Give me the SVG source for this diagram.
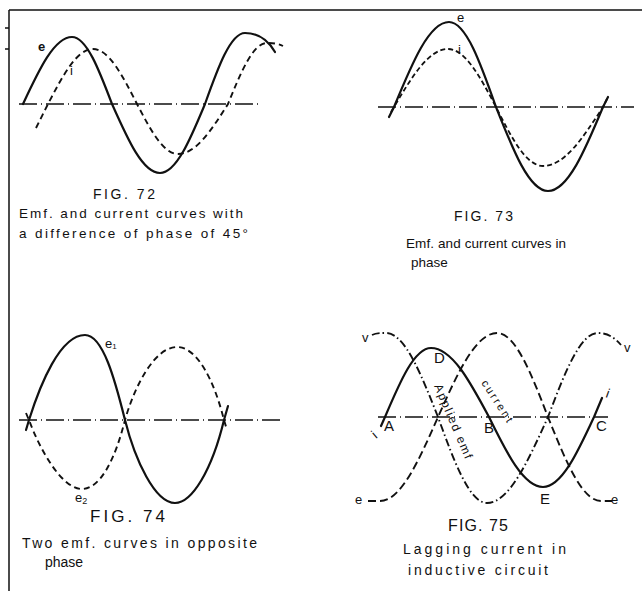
<svg xmlns="http://www.w3.org/2000/svg" width="642" height="591" viewBox="0 0 642 591">
<style>
.bg{fill:#fff}
.frame{fill:none;stroke:#111;stroke-width:1.5}
.axis{fill:none;stroke:#111;stroke-width:1.5;stroke-dasharray:18 4 1 4;stroke-linecap:butt}
.solid{fill:none;stroke:#111;stroke-width:2.2;stroke-linecap:round;stroke-linejoin:round}
.dash{fill:none;stroke:#111;stroke-width:1.9;stroke-dasharray:6 4}
.dashs{fill:none;stroke:#111;stroke-width:1.8;stroke-dasharray:5 3}
.dashl{fill:none;stroke:#111;stroke-width:1.9;stroke-dasharray:8 4}
.dashdot{fill:none;stroke:#111;stroke-width:1.9;stroke-dasharray:8 3 1.5 3}
text{font-family:"Liberation Sans","DejaVu Sans",sans-serif;fill:#111}
.cap{font-size:13.5px}
.fig{font-size:14px}
.lbl{font-size:13px}
</style>
<rect class="bg" x="0" y="0" width="642" height="591"/>
<g id="frame">
<path class="frame" d="M9,10 H642 M9,10 V591 M5,28 H9 M5,49 H9"/>
</g>
<g id="connectors">
<!-- Fig 72 -->
<path class="axis" d="M19,104 H262"/>
<path class="solid" d="M23,104 C39,69.7 54.3,37 72,37 C86.5,37 99,69.7 112,104 C127.7,139.3 142.6,173 160,173 C176.3,173 190.3,139.3 205,104 C218,67.6 230.5,33 245,33 C258,33 268,40 275,52"/>
<path class="dash" d="M36,128 L48,104 C62.7,75.8 76.7,49 93,49 C108.9,49 122.7,75.8 137,104 C150.4,129.6 163.2,154 178,154 C196.1,154 211.7,129.6 228,104 C240.7,72.7 252.9,43 267,43 C274,43 279,44 283,46"/>
<!-- Fig 73 -->
<path class="axis" d="M378,107 H634"/>
<path class="solid" d="M389,117 L394,107 C411.9,63.5 429.1,22 449,22 C466,22 480.7,63.5 496,107 C513,150 529.2,191 548,191 C567.9,191 585.1,150 603,107 L608,97"/>
<path class="dashs" d="M391,112 L394,107 C411.6,77.3 428.5,49 448,49 C465.4,49 480.3,77.3 496,107 C511.3,137.2 526,166 543,166 C564.7,166 583.4,137.2 603,107 L607,99"/>
<!-- Fig 74 -->
<path class="axis" d="M19,420 H280"/>
<path class="solid" d="M26,430 L29,420 C40,385 60,335 85,335 C103,335 115,380 125,420 C135,460 155,503 175,503 C192,503 212,470 224,420 L228,406"/>
<path class="dash" d="M26,413 L29,420 C40,450 62,489 82,489 C100,489 115,460 125,420 C135,385 155,347 177,347 C197,347 214,380 224,420 L227,430"/>
<!-- Fig 75 -->
<path class="axis" d="M378,417 H608"/>
<path class="solid" d="M381,426 L385,417 C400,381.7 414.4,348 431,348 C452,348 470.1,381.7 489,417 C506.6,452.9 523.5,487 543,487 C561.5,487 577.4,452.9 594,417 L602,398"/>
<path class="dashl" d="M368,501 L380,501 C401,501 419.1,460 438,417 C457.2,374 475.6,333 497,333 C515.5,333 531.4,374 548,417 C565.3,460 581.8,501 601,501 L612,501"/>
<path class="dashdot" d="M372,335 C376,333 380,333 386,333 C404.8,333 421,374 438,417 C454,461 469.3,503 487,503 C509.1,503 528.1,461 548,417 C564.3,374 579.9,333 598,333 C608,333 615,338 621,345"/>
</g>
<g id="fig72">
<text class="lbl" x="38" y="51" font-weight="bold">e</text>
<text class="lbl" x="70" y="75">i</text>
<text class="fig" x="93" y="199" textLength="62" lengthAdjust="spacing">FIG. 72</text>
<text class="cap" x="19" y="218" textLength="224" lengthAdjust="spacing">Emf. and current curves with</text>
<text class="cap" x="19" y="238" textLength="229" lengthAdjust="spacing">a difference of phase of 45°</text>
</g>
<g id="fig73">
<text class="lbl" x="457" y="22">e</text>
<text class="lbl" x="458" y="54">i</text>
<text class="fig" x="454" y="221" textLength="59" lengthAdjust="spacing">FIG. 73</text>
<text class="cap" x="406" y="248" textLength="160" lengthAdjust="spacing">Emf. and current curves in</text>
<text class="cap" x="411" y="267">phase</text>
</g>
<g id="fig74">
<text class="lbl" x="105" y="348">e<tspan font-size="8" dy="1">1</tspan></text>
<text class="lbl" x="75" y="502">e<tspan font-size="9" dy="2">2</tspan></text>
<text x="90" y="522" textLength="75" lengthAdjust="spacing" style="font-size:17px">FIG. 74</text>
<text x="22" y="548" textLength="235" lengthAdjust="spacing" style="font-size:14px">Two emf. curves in opposite</text>
<text x="45" y="567" style="font-size:14px">phase</text>
</g>
<g id="fig75">
<text class="lbl" x="362" y="342">v</text>
<text class="lbl" x="624" y="352">v</text>
<text class="lbl" x="355" y="504">e</text>
<text class="lbl" x="611" y="504">e</text>
<text class="lbl" transform="translate(376,439) rotate(-40)">i</text>
<text class="lbl" transform="translate(605,397) rotate(20)">i</text>
<text x="434" y="363" style="font-size:15px">D</text>
<text x="384" y="431" style="font-size:15px">A</text>
<text x="484" y="433" style="font-size:15px">B</text>
<text x="596" y="431" style="font-size:15px">C</text>
<text x="540" y="504" style="font-size:15px">E</text>
<text transform="translate(434,386) rotate(67)" style="font-size:12px" textLength="80" lengthAdjust="spacing">Applied emf</text>
<text transform="translate(481,383) rotate(57)" style="font-size:11px" textLength="48" lengthAdjust="spacing">current</text>
<text x="448" y="531" style="font-size:16px" textLength="60" lengthAdjust="spacing">FIG. 75</text>
<text x="403" y="554" style="font-size:14px" textLength="163" lengthAdjust="spacing">Lagging current in</text>
<text x="408" y="575" style="font-size:14px" textLength="140" lengthAdjust="spacing">inductive circuit</text>
</g>
</svg>
